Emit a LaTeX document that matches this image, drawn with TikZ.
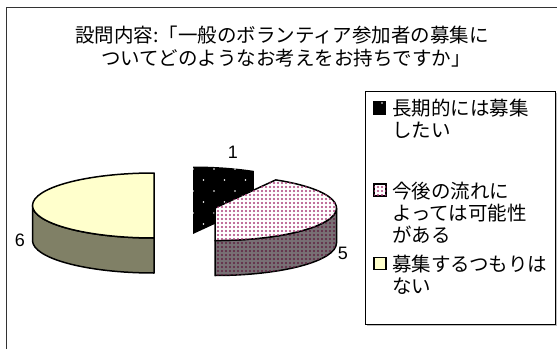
\documentclass[tikz,border=0pt]{standalone}
\usepackage{fontspec}
\newfontfamily\jpfont{Noto Sans CJK JP}
\newfontfamily\numfont{Liberation Sans}
\usetikzlibrary{patterns}
\pgfdeclarepatternformonly{pinkdots}{\pgfqpoint{-1pt}{-1pt}}{\pgfqpoint{5pt}{5pt}}{\pgfqpoint{4pt}{4pt}}{%
	\pgfpathcircle{\pgfqpoint{2pt}{2pt}}{1.15pt}\pgfusepath{fill}}
\pgfdeclarepatternformonly{sparsedots}{\pgfqpoint{-1pt}{-1pt}}{\pgfqpoint{22pt}{23pt}}{\pgfqpoint{21pt}{22pt}}{%
	\pgfpathcircle{\pgfqpoint{4pt}{4pt}}{0.9pt}\pgfpathcircle{\pgfqpoint{14.5pt}{15pt}}{0.9pt}\pgfusepath{fill}}
\definecolor{pieyellow}{RGB}{255,255,204}
\definecolor{pieolive}{RGB}{128,128,102}
\definecolor{piepink}{RGB}{170,60,120}
\definecolor{piedark}{RGB}{95,35,65}
\definecolor{piegray}{RGB}{120,112,116}
\tikzset{
	sliceedge/.style={line width=1.5pt, line join=round},
	titletext/.style={font=\jpfont\fontsize{19.5}{23}\selectfont, inner sep=0pt, anchor=base},
	legtext/.style={font=\jpfont\fontsize{19.5}{22}\selectfont, inner sep=0pt, anchor=base west},
	legkey/.style={draw=black, line width=1.2pt, minimum size=12pt, inner sep=0pt},
	pielabel/.style={font=\numfont\fontsize{18}{20}\selectfont, inner sep=0pt}
}

\begin{document}
\begin{tikzpicture}[x=1pt, y=1pt]
	%%%%% START %%%%%
	\useasboundingbox (0, 0) rectangle (557, 349);
	\fill[white] (0, 0) rectangle (557, 349);
	
	% chart frame
	\draw[line width=1.3pt, color=black!80] (6.5, 0) -- (6.5, 341.5) -- (557, 341.5);
	
	% title
	\node[titletext] (title1) at (282, 306.6) {設問内容:「一般のボランティア参加者の募集に};
	\node[titletext] (title2) at (286, 283.6) {ついてどのようなお考えをお持ちですか」};
	
	% slice 6
	\draw[sliceedge, fill=pieolive] (32.5, 143.5) arc[start angle=180, end angle=270, x radius=121.5, y radius=32.5] -- (154, 76) arc[start angle=270, end angle=180, x radius=121.5, y radius=32.5] -- cycle;
	\draw[sliceedge, fill=pieyellow] (154, 143.5) -- (154, 176) arc[start angle=90, end angle=270, x radius=121.5, y radius=32.5] -- cycle;
	
	% slice 1
	\fill[black] (193, 182.5) arc[start angle=90, end angle=60, x radius=121.5, y radius=32.5] -- (253.75, 143.1) -- (193, 115) -- cycle;
	\fill[pattern=sparsedots, pattern color=white] (193, 182.5) arc[start angle=90, end angle=60, x radius=121.5, y radius=32.5] -- (253.75, 143.1) -- (193, 115) -- cycle;
	
	% slice 5
	\draw[sliceedge, fill=piegray, postaction={pattern=pinkdots, pattern color=piedark}] (336.5, 141) arc[start angle=0, end angle=-90, x radius=121.5, y radius=32.5] -- (215, 73.5) arc[start angle=-90, end angle=0, x radius=121.5, y radius=32.5] -- cycle;
	\draw[sliceedge, fill=white, postaction={pattern=pinkdots, pattern color=piepink}] (215, 141) -- (275.75, 169.1) arc[start angle=60, end angle=-90, x radius=121.5, y radius=32.5] -- cycle;
	
	% data labels
	\node[pielabel] (lab1) at (233, 197) {1};
	\node[pielabel] (lab5) at (343, 96) {5};
	\node[pielabel] (lab6) at (20, 109) {6};
	
	% legend
	\draw[line width=1.5pt, color=black!25] (367, 23.5) -- (556.5, 23.5) -- (556.5, 256);
	\draw[line width=1pt] (365, 25) rectangle (555, 258);
	
	\node[legkey, fill=black, postaction={pattern=sparsedots, pattern color=white}] (key1) at (379.5, 241) {};
	\node[legtext] (leg1a) at (392, 233.1) {長期的には募集};
	\node[legtext] (leg1b) at (392, 211.1) {したい};
	
	\node[legkey, fill=white, postaction={pattern=pinkdots, pattern color=piepink}] (key2) at (380, 159) {};
	\node[legtext] (leg2a) at (392, 150.6) {今後の流れに};
	\node[legtext] (leg2b) at (392, 128.6) {よっては可能性};
	\node[legtext] (leg2c) at (392, 106.6) {がある};
	
	\node[legkey, fill=pieyellow] (key3) at (380, 85.5) {};
	\node[legtext] (leg3a) at (392, 77.6) {募集するつもりは};
	\node[legtext] (leg3b) at (392, 55.6) {ない};
	
	%%%%% END %%%%%
\end{tikzpicture}
\end{document}
